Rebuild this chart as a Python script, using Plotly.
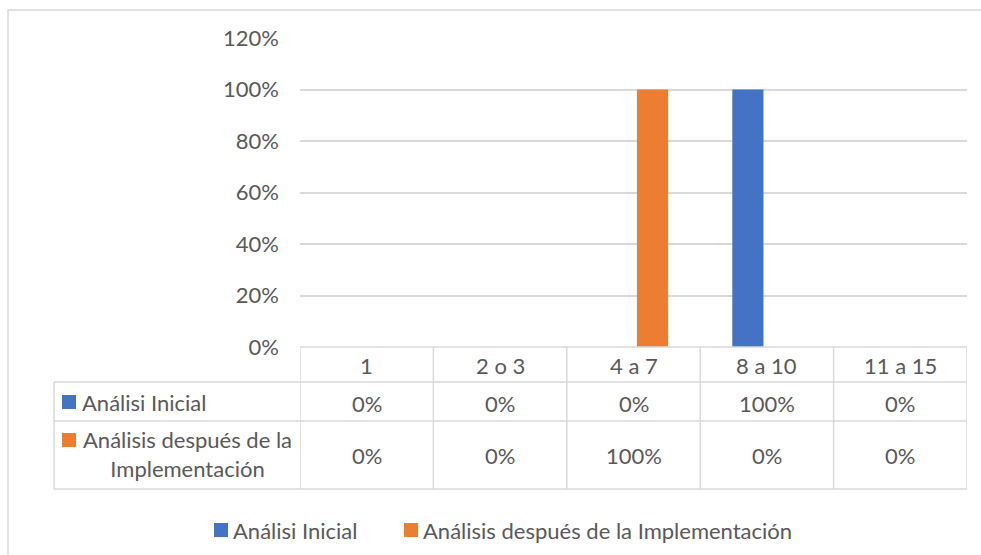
import plotly.graph_objects as go

categories = ["1", "2 o 3", "4 a 7", "8 a 10", "11 a 15"]
series_names = ["Análisi Inicial", "Análisis después de la Implementación"]
table_labels = ["Análisi Inicial", "Análisis después de la<br>Implementación"]
inicial = [0, 0, 0, 1.0, 0]
despues = [0, 0, 1.0, 0, 0]
colors = ["#4472C4", "#ED7D31"]
y_ticks = [0, 0.2, 0.4, 0.6, 0.8, 1.0, 1.2]

W, H = 981, 555
FONT = "Lato"
FS = 22
TXT = "#595959"
GRID = "#D9D9D9"


def px(x):
    return x / W


def py(y):
    return 1 - y / H


xi = list(range(len(categories)))
fig = go.Figure()
for name, vals, col in zip(series_names, [inicial, despues], colors):
    fig.add_trace(go.Bar(x=xi, y=vals, name=name, showlegend=False,
                         marker=dict(color=col, line=dict(width=0))))

# table geometry (pixels)
left_x, plot_l, plot_r = 54, 300, 967
row_y = [347, 382, 421, 489]
shapes = []
line = dict(color=GRID, width=1.5)
shapes.append(dict(type="line", xref="paper", yref="paper", x0=px(plot_l), x1=px(plot_r), y0=py(row_y[0]), y1=py(row_y[0]), line=line))
for yy in row_y[1:]:
    shapes.append(dict(type="line", xref="paper", yref="paper", x0=px(left_x), x1=px(plot_r), y0=py(yy), y1=py(yy), line=line))
shapes.append(dict(type="line", xref="paper", yref="paper", x0=px(left_x), x1=px(left_x), y0=py(row_y[1]), y1=py(row_y[3]), line=line))
for i in range(len(categories) + 1):
    shapes.append(dict(type="line", xref="x", yref="paper", x0=i - 0.5, x1=i - 0.5, y0=py(row_y[0]), y1=py(row_y[3]), line=line))
# legend keys in table
for k, col in enumerate(colors):
    yc = 402 if k == 0 else 440
    shapes.append(dict(type="rect", xref="paper", yref="paper", x0=px(62), x1=px(76), y0=py(yc - 7), y1=py(yc + 7), fillcolor=col, line=dict(width=0)))
# outer frame
shapes.append(dict(type="rect", xref="paper", yref="paper", x0=px(8), x1=px(990), y0=py(10), y1=py(570), line=dict(color=GRID, width=1.5), fillcolor="rgba(0,0,0,0)", layer="below"))

annotations = []
font = dict(family=FONT, size=FS, color=TXT)
for i, c in enumerate(categories):
    annotations.append(dict(x=i, y=py(365), xref="x", yref="paper", text=c, showarrow=False, font=font, xanchor="center", yanchor="middle"))
for i, v in enumerate(inicial):
    annotations.append(dict(x=i, y=py(403), xref="x", yref="paper", text=f"{v:.0%}", showarrow=False, font=font, xanchor="center", yanchor="middle"))
for i, v in enumerate(despues):
    annotations.append(dict(x=i, y=py(455), xref="x", yref="paper", text=f"{v:.0%}", showarrow=False, font=font, xanchor="center", yanchor="middle"))
annotations.append(dict(x=px(80), y=py(402), xref="paper", yref="paper", text=table_labels[0], showarrow=False, font=font, xanchor="left", yanchor="middle"))
annotations.append(dict(x=px(187), y=py(454), xref="paper", yref="paper", text=table_labels[1], showarrow=False, font=font, xanchor="center", yanchor="middle", align="center"))

# bottom legend (manual, from series names/colors)
leg_x = [214, 404]
for name, col, lx in zip(series_names, colors, leg_x):
    shapes.append(dict(type="rect", xref="paper", yref="paper", x0=px(lx), x1=px(lx + 14), y0=py(523), y1=py(537), fillcolor=col, line=dict(width=0)))
    annotations.append(dict(x=px(lx + 17), y=py(530), xref="paper", yref="paper", text=name, showarrow=False, font=font, xanchor="left", yanchor="middle"))

fig.update_layout(
    width=W, height=H,
    margin=dict(l=0, r=0, t=0, b=0, autoexpand=False),
    paper_bgcolor="white", plot_bgcolor="white",
    barmode="group", bargap=0.43, bargroupgap=0.18,
    showlegend=False,
    xaxis=dict(domain=[px(plot_l), px(plot_r)], range=[-0.5, 4.5], showticklabels=False,
               showgrid=False, zeroline=False, showline=False, fixedrange=True),
    yaxis=dict(domain=[py(347), py(38)], range=[0, 1.2], tickvals=y_ticks, tickformat=".0%",
               showgrid=True, gridcolor=GRID, gridwidth=1.5, zeroline=False, showline=False,
               ticks="", ticklabelstandoff=20, tickfont=dict(family=FONT, size=FS, color=TXT)),
    shapes=shapes,
    annotations=annotations,
)

fig.write_html("out.html")
